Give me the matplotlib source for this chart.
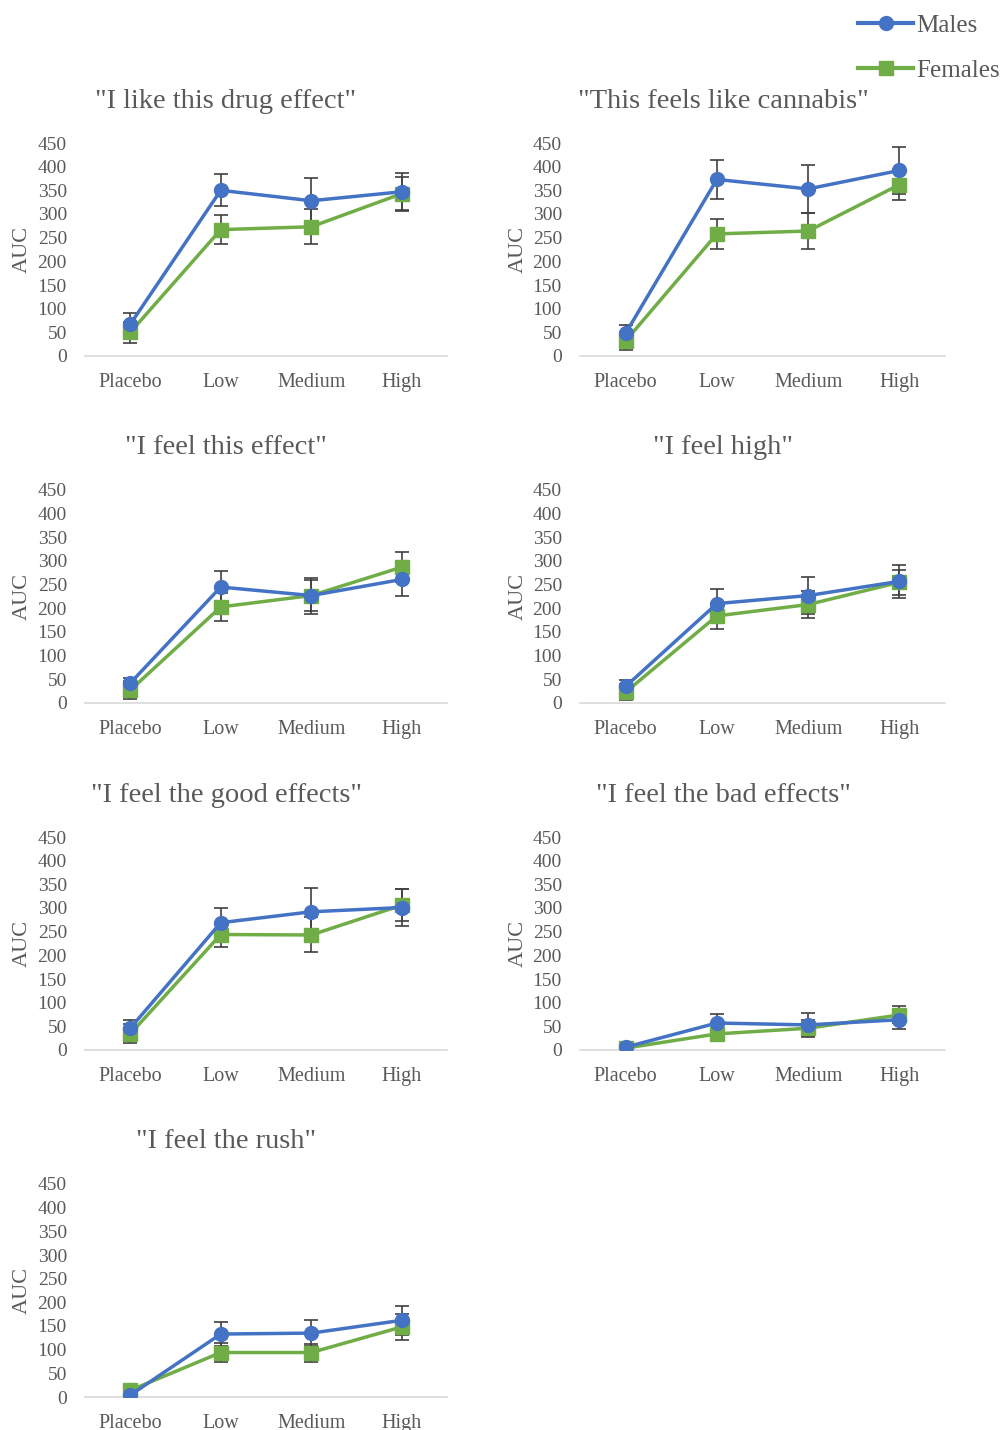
import matplotlib
matplotlib.use("Agg")
import matplotlib.pyplot as plt
from matplotlib.lines import Line2D

plt.rcParams['font.family'] = ['Liberation Serif', 'DejaVu Serif']

W, H = 1005, 1430

doses = ['Placebo', 'Low', 'Medium', 'High']

titles = ['"I like this drug effect"', '"This feels like cannabis"',
          '"I feel this effect"', '"I feel high"',
          '"I feel the good effects"', '"I feel the bad effects"',
          '"I feel the rush"']

males = [[67, 350, 328, 347], [48, 373, 353, 392],
         [42, 245, 227, 261], [35, 210, 227, 257],
         [46, 269, 292, 301], [6, 57, 53, 64],
         [4, 133, 135, 162]]
males_se = [[24, 34, 48, 40], [17, 41, 50, 49],
            [11, 33, 38, 36], [14, 31, 39, 35],
            [17, 32, 50, 39], [3, 19, 26, 20],
            [5, 25, 27, 31]]
females = [[50, 267, 273, 343], [32, 258, 264, 362],
           [27, 203, 227, 287], [23, 184, 208, 255],
           [34, 244, 243, 306], [4, 34, 46, 74],
           [14, 94, 94, 148]]
females_se = [[22, 30, 37, 35], [19, 32, 38, 33],
              [19, 29, 32, 31], [17, 28, 28, 27],
              [20, 27, 37, 34], [3, 8, 17, 18],
              [12, 20, 19, 28]]

BLUE = '#4472C4'
GREEN = '#70AD47'
TXT = '#595959'
ERR = '#404040'

fig = plt.figure(figsize=(W / 100, H / 100), dpi=100)

# pixel layout of the panels (left, right, top, bottom of plot area)
cols = [(85, 447), (580, 945)]
rows = [(143, 356), (490, 703), (837, 1050), (1184, 1397)]
title_y = [101, 447, 795, 1141]
title_x = [226, 723]
auc_x = [22, 518]


def fx(px):
    return px / W


def fy(py):
    return 1 - py / H


for i, title in enumerate(titles):
    r, c = divmod(i, 2)
    x0, x1 = cols[c]
    y0, y1 = rows[r]
    ax = fig.add_axes([fx(x0), fy(y1), fx(x1) - fx(x0), (y1 - y0) / H])
    xs = range(len(doses))

    ax.errorbar(xs, males[i], yerr=males_se[i], fmt='none', ecolor=ERR,
                elinewidth=1.2, capsize=5, capthick=1.2, zorder=1)
    ax.errorbar(xs, females[i], yerr=females_se[i], fmt='none', ecolor=ERR,
                elinewidth=1.2, capsize=5, capthick=1.2, zorder=1)
    ax.plot(xs, males[i], color=BLUE, lw=2.5, marker='o', ms=10, zorder=3)
    ax.plot(xs, females[i], color=GREEN, lw=2.5, marker='s', ms=10, zorder=2)

    ax.set_xlim(-0.5, 3.5)
    ax.set_ylim(0, 450)
    ax.set_yticks(range(0, 451, 50))
    ax.set_xticks(list(xs))
    ax.set_xticklabels(doses)
    ax.tick_params(axis='y', length=0, pad=13, labelsize=14, labelcolor=TXT)
    ax.tick_params(axis='x', length=0, pad=12, labelsize=14.5, labelcolor=TXT)
    for s in ['top', 'right', 'left']:
        ax.spines[s].set_visible(False)
    ax.spines['bottom'].set_color('#D9D9D9')
    ax.spines['bottom'].set_linewidth(1.2)
    ax.patch.set_alpha(0)

    fig.text(fx(title_x[c]), fy(title_y[r]), title, ha='center', va='center',
             fontsize=20.5, color=TXT)
    fig.text(fx(auc_x[c]), fy((y0 + y1) / 2), 'AUC', rotation=90,
             ha='center', va='center', fontsize=16, color=TXT)

handles = [Line2D([], [], color=BLUE, lw=3, marker='o', ms=10),
           Line2D([], [], color=GREEN, lw=3, marker='s', ms=10)]
fig.legend(handles, ['Males', 'Females'], loc='upper right',
           bbox_to_anchor=(fx(1022), fy(-8)), frameon=False, fontsize=18,
           handlelength=2.2, handletextpad=0.1, labelspacing=0.9,
           labelcolor=TXT)

fig.savefig('out.png', dpi=100)
